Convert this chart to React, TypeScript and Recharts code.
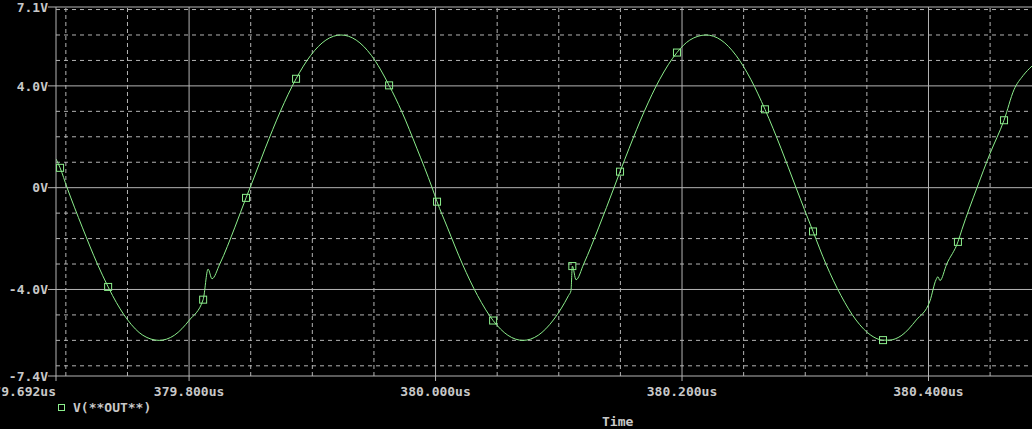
import { LineChart, Line, XAxis, YAxis, ReferenceLine } from "recharts";

// V(**OUT**) trace, time in us
const timeUs = [
  379.692, 379.6953, 379.701, 379.7133, 379.7256, 379.7343, 379.7379, 379.7502, 379.7625, 379.7757,
  379.788, 379.8003, 379.8114, 379.8154, 379.8186, 379.8249, 379.8372, 379.8462, 379.8495, 379.8618,
  379.8741, 379.8868, 379.8987, 379.911, 379.9233, 379.9356, 379.9479, 379.9623, 379.9725, 379.9848,
  379.9972, 380.0012, 380.0095, 380.0218, 380.0341, 380.0467, 380.0587, 380.071, 380.0833, 380.0956,
  380.1079, 380.1099, 380.111, 380.114, 380.1202, 380.1325, 380.1448, 380.1497, 380.1571, 380.1694,
  380.1817, 380.1959, 380.2063, 380.2195, 380.2317, 380.2438, 380.256, 380.2673, 380.2803, 380.2925,
  380.3063, 380.3168, 380.329, 380.3412, 380.3533, 380.3631, 380.368, 380.3778, 380.3901, 380.4012,
  380.4061, 380.4077, 380.4093, 380.4148, 380.4239, 380.4271, 380.4394, 380.45, 380.4613, 380.4694,
  380.4767, 380.484,
];
const vOut = [
  1.13, 0.78, 0, -1.55, -3.0, -3.9, -4.24, -5.2, -5.8, -6.0,
  -5.8, -5.2, -4.4, -3.2, -3.58, -3.0, -1.55, -0.4, 0, 1.55,
  3.0, 4.28, 5.2, 5.8, 6.0, 5.8, 5.2, 4.02, 3.0, 1.55,
  0, -0.55, -1.55, -3.0, -4.24, -5.22, -5.8, -6.0, -5.8, -5.2,
  -4.24, -4.05, -3.08, -3.62, -3.0, -1.55, 0, 0.63, 1.55, 3.0,
  4.24, 5.31, 5.8, 6.0, 5.8, 5.2, 4.24, 3.08, 1.55, 0,
  -1.72, -3.0, -4.24, -5.2, -5.8, -5.99, -5.99, -5.82, -5.2, -4.45,
  -3.62, -3.5, -3.65, -3.0, -2.13, -1.65, 0, 1.35, 2.65, 3.85,
  4.4, 4.78,
];
// points where PSpice draws its square symbol
const markerTimes = [
  379.6953, 379.7343, 379.8114, 379.8462, 379.8868, 379.9623, 380.0012, 380.0467,
  380.111, 380.1497, 380.1959, 380.2673, 380.3063, 380.3631, 380.4239, 380.4613,
];

const xTicks = [379.692, 379.8, 380.0, 380.2, 380.4];
const xTickLabels = ["379.692us", "379.800us", "380.000us", "380.200us", "380.400us"];
const xMajor = [379.8, 380.0, 380.2, 380.4];
const xMinor = [379.7, 379.75, 379.85, 379.9, 379.95, 380.05, 380.1, 380.15, 380.25, 380.3, 380.35, 380.45];

const yTicks = [7.1, 4, 0, -4, -7.4];
const yTickLabels = ["7.1V", "4.0V", "0V", "-4.0V", "-7.4V"];
const yMajor = [4, 0, -4];
const yMinor = [7, 6, 5, 3, 2, 1, -1, -2, -3, -5, -6, -7];

const data = timeUs.map((t, i) => ({ t, v: vOut[i], m: markerTimes.includes(t) }));

const GRID = "#b4b4b4";
const TEXT = "#c8c8c8";
const TRACE = "#8cee8c";
const FONT = "'DejaVu Sans Mono', monospace";

const XTick = ({ x, y, payload }: any) => {
  const i = xTicks.indexOf(payload.value);
  // first label is right-aligned on the axis corner, like PSpice does
  return (
    <text x={x} y={y} dy="0.71em" textAnchor={i === 0 ? "end" : "middle"}
      fill={TEXT} fontFamily={FONT} fontSize={13} fontWeight="bold">
      {xTickLabels[i]}
    </text>
  );
};

const YTick = ({ x, y, payload }: any) => {
  const i = yTicks.indexOf(payload.value);
  return (
    <text x={x} y={y} dy="0.36em" textAnchor="end"
      fill={TEXT} fontFamily={FONT} fontSize={13} fontWeight="bold">
      {yTickLabels[i]}
    </text>
  );
};

const Marker = (props: any) => {
  const { cx, cy, payload, index } = props;
  if (!payload || !payload.m) return <g key={`d${index}`} />;
  return (
    <rect key={`d${index}`} x={cx - 3.5} y={cy - 3.5} width={7} height={7}
      fill="none" stroke={TRACE} strokeWidth={1} />
  );
};

export default function App() {
  return (
    <div style={{ position: "relative", width: 1032, height: 429, background: "#000" }}>
      <style>{"body{margin:0;background:#000}"}</style>
      <LineChart width={1032} height={429} data={data}
        margin={{ top: 7, right: 0, left: 0, bottom: 23 }}>
        {xMinor.map((v) => (
          <ReferenceLine key={`xm${v}`} x={v} stroke={GRID} strokeDasharray="4 3" />
        ))}
        {yMinor.map((v) => (
          <ReferenceLine key={`ym${v}`} y={v} stroke={GRID} strokeDasharray="4 4" />
        ))}
        {xMajor.map((v) => (
          <ReferenceLine key={`xM${v}`} x={v} stroke={GRID} />
        ))}
        {yMajor.map((v) => (
          <ReferenceLine key={`yM${v}`} y={v} stroke={GRID} />
        ))}
        <ReferenceLine y={7.1} stroke={GRID} />
        <XAxis dataKey="t" type="number" domain={[379.692, 380.484]} allowDataOverflow
          ticks={xTicks} interval={0} height={30} tickSize={5} tickMargin={6}
          axisLine={{ stroke: GRID }} tickLine={{ stroke: GRID }} tick={<XTick />} />
        <YAxis type="number" domain={[-7.4, 7.1]} allowDataOverflow
          ticks={yTicks} interval={0} width={56} tickSize={8} tickMargin={0}
          axisLine={{ stroke: GRID }} tickLine={{ stroke: GRID }} tick={<YTick />} />
        <Line dataKey="v" type="monotone" stroke={TRACE} strokeWidth={1}
          dot={Marker} activeDot={false} isAnimationActive={false} />
      </LineChart>
      <svg width={1032} height={429}
        style={{ position: "absolute", left: 0, top: 0, pointerEvents: "none" }}>
        <rect x={58.5} y={404.5} width={6} height={6} fill="none" stroke={TRACE} />
        <text x={73} y={411.5} fill={TEXT} fontFamily={FONT} fontSize={13} fontWeight="bold">
          V(**OUT**)
        </text>
        <text x={602} y={426} fill={TEXT} fontFamily={FONT} fontSize={13} fontWeight="bold">
          Time
        </text>
      </svg>
    </div>
  );
}
